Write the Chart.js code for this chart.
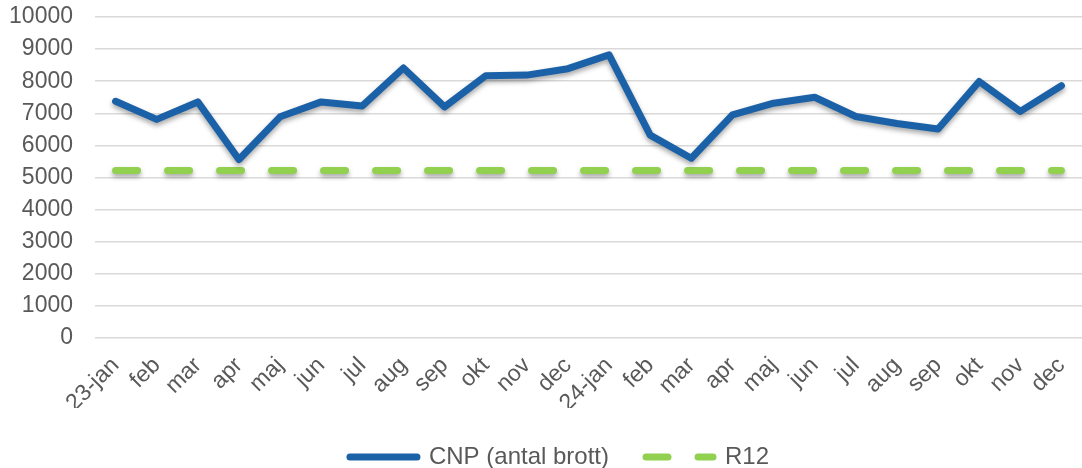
<!DOCTYPE html>
<html>
<head>
<meta charset="utf-8">
<script src="https://cdn.jsdelivr.net/npm/chart.js@4/dist/chart.umd.min.js"></script>
<style>
  html, body { margin: 0; padding: 0; background: #fff; }
  #wrap { width: 1082px; height: 468px; }
</style>
</head>
<body>
<div id="wrap"><canvas id="myChart" width="1082" height="468"></canvas></div>
<script>
var manader = ['23-jan', 'feb', 'mar', 'apr', 'maj', 'jun', 'jul', 'aug', 'sep', 'okt', 'nov', 'dec',
               '24-jan', 'feb', 'mar', 'apr', 'maj', 'jun', 'jul', 'aug', 'sep', 'okt', 'nov', 'dec'];
var cnp = [7375, 6810, 7355, 5560, 6890, 7355, 7230, 8410, 7200, 8170, 8190, 8390,
           8820, 6320, 5600, 6950, 7315, 7500, 6900, 6680, 6510, 7990, 7060, 7860];
var r12 = [5220, 5220, 5220, 5220, 5220, 5220, 5220, 5220, 5220, 5220, 5220, 5220,
           5220, 5220, 5220, 5220, 5220, 5220, 5220, 5220, 5220, 5220, 5220, 5220];

var textFarg = '#595959';
var typsnitt = '"Liberation Sans", Arial, sans-serif';

// skugga under linjerna
var skugga = {
    id: 'skugga',
    beforeDatasetDraw: function(chart) {
        var ctx = chart.ctx;
        ctx.save();
        ctx.shadowColor = 'rgba(0,0,0,0.35)';
        ctx.shadowBlur = 5;
        ctx.shadowOffsetY = 3;
    },
    afterDatasetDraw: function(chart) {
        chart.ctx.restore();
    }
};

// legenden sitter lite till höger om mitten
var flyttaLegend = {
    id: 'flyttaLegend',
    afterLayout: function(chart) {
        chart.legend.left += 11;
        chart.legend.right += 11;
    }
};

function legendEtiketter(chart) {
    var items = Chart.defaults.plugins.legend.labels.generateLabels(chart);
    items.forEach(function(it) {
        var ds = chart.data.datasets[it.datasetIndex];
        it.lineDash = ds.borderDash || [];
        it.lineCap = 'round';
        it.lineWidth = ds.borderWidth;
        it.strokeStyle = ds.borderColor;
        it.pointStyle = 'line';
    });
    return items;
}

var ctx = document.getElementById('myChart').getContext('2d');
var graf = new Chart(ctx, {
    type: 'line',
    data: {
        labels: manader,
        datasets: [{
            label: 'CNP (antal brott)',
            data: cnp,
            borderColor: '#1b61a7',
            backgroundColor: '#1b61a7',
            borderWidth: 7,
            borderCapStyle: 'round',
            borderJoinStyle: 'round',
            pointRadius: 0,
            tension: 0
        }, {
            label: 'R12',
            data: r12,
            borderColor: '#92d050',
            backgroundColor: '#92d050',
            borderWidth: 7,
            borderDash: [22, 30],
            borderCapStyle: 'round',
            pointRadius: 0,
            tension: 0
        }]
    },
    options: {
        responsive: false,
        animation: false,
        layout: { padding: { left: 10, top: 17, right: -5, bottom: -11 } },
        plugins: {
            legend: {
                position: 'bottom',
                labels: {
                    usePointStyle: true,
                    pointStyle: 'line',
                    pointStyleWidth: 67,
                    color: textFarg,
                    padding: 37,
                    font: { family: typsnitt, size: 24 },
                    generateLabels: legendEtiketter
                }
            },
            tooltip: { enabled: false }
        },
        scales: {
            x: {
                offset: true,
                grid: { display: false, drawTicks: false },
                border: { display: false },
                ticks: {
                    color: textFarg,
                    font: { family: typsnitt, size: 23 },
                    minRotation: 45,
                    maxRotation: 45,
                    autoSkip: false,
                    padding: 14
                },
                afterFit: function(s) {
                    s.height = 70;
                    s.paddingLeft = 0;
                    s.paddingRight = 0;
                }
            },
            y: {
                min: 0,
                max: 10000,
                ticks: {
                    stepSize: 1000,
                    autoSkip: false,
                    color: textFarg,
                    font: { family: typsnitt, size: 23 },
                    padding: 22,
                    callback: function(v) { return String(v); }
                },
                grid: { color: '#d9d9d9', lineWidth: 1.5, drawTicks: false },
                border: { display: false },
                afterFit: function(s) {
                    s.width = 85;
                    s.paddingTop = 0;
                    s.paddingBottom = 0;
                }
            }
        }
    },
    plugins: [skugga, flyttaLegend]
});
</script>
</body>
</html>
